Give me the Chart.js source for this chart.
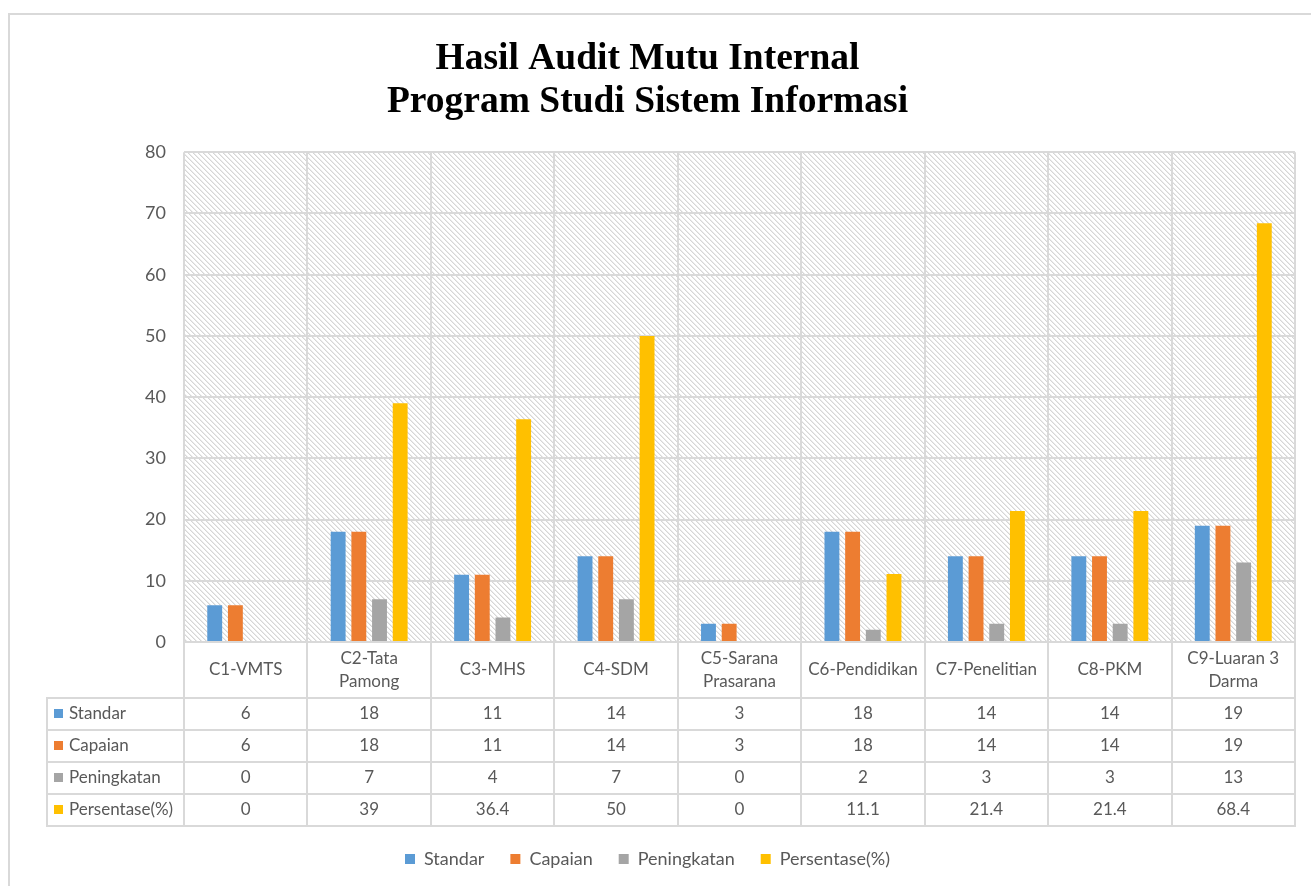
<!DOCTYPE html>
<html>
<head>
<meta charset="utf-8">
<script src="https://cdn.jsdelivr.net/npm/chart.js@4.4.1/dist/chart.umd.min.js"></script>
<style>
  html, body { margin: 0; padding: 0; background: #ffffff; }
  canvas { display: block; }
</style>
</head>
<body>
<canvas id="c" width="1311" height="886"></canvas>
<script>
// ---- Data ----
const categories = ['C1-VMTS', ['C2-Tata', 'Pamong'], 'C3-MHS', 'C4-SDM', ['C5-Sarana', 'Prasarana'], 'C6-Pendidikan', 'C7-Penelitian', 'C8-PKM', ['C9-Luaran 3', 'Darma']];
const seriesNames = ['Standar', 'Capaian', 'Peningkatan', 'Persentase(%)'];
const standar = [6, 18, 11, 14, 3, 18, 14, 14, 19];
const capaian = [6, 18, 11, 14, 3, 18, 14, 14, 19];
const peningkatan = [0, 7, 4, 7, 0, 2, 3, 3, 13];
const persentase = [0, 39, 36.4, 50, 0, 11.1, 21.4, 21.4, 68.4];
const titleLines = ['Hasil Audit Mutu Internal', 'Program Studi Sistem Informasi'];
const yTicks = { min: 0, max: 80, step: 10 };

// ---- Styles ----
const colors = ['#5B9BD5', '#ED7D31', '#A5A5A5', '#FFC000'];
const gridColor = '#d9d9d9';
const textColor = '#595959';
const FONT = 'Lato, "Open Sans", sans-serif';

function makeHatch() {
  const P = 5;
  const t = document.createElement('canvas');
  t.width = P; t.height = P;
  const g = t.getContext('2d');
  g.fillStyle = '#ffffff';
  g.fillRect(0, 0, P, P);
  for (let i = 0; i < P; i++) {
    g.fillStyle = '#d6d6d6';
    g.fillRect(i, i, 1, 1);
    g.fillStyle = '#ebebeb';
    g.fillRect((i + 1) % P, i, 1, 1);
  }
  return g.createPattern(t, 'repeat');
}

const TABLE_ROW0 = 56;     // height of category-label row
const TABLE_ROW = 32;      // height of each series row
const TABLE_LEFT = 47;     // left edge of series name column

const frameAndBg = {
  id: 'frameAndBg',
  beforeDraw(chart) {
    const ctx = chart.ctx;
    const a = chart.chartArea;
    ctx.save();
    ctx.fillStyle = '#ffffff';
    ctx.fillRect(0, 0, chart.width, chart.height);
    ctx.strokeStyle = '#d9d9d9';
    ctx.lineWidth = 2;
    ctx.strokeRect(9, 14, chart.width + 10, chart.height + 10);
    ctx.fillStyle = makeHatch();
    ctx.fillRect(a.left, a.top, a.right - a.left, a.bottom - a.top);
    ctx.restore();
  }
};

const dataTable = {
  id: 'dataTable',
  afterDraw(chart) {
    const ctx = chart.ctx;
    const a = chart.chartArea;
    const x = chart.scales.x;
    const n = categories.length;
    const w = x.getPixelForValue(1) - x.getPixelForValue(0);
    const top = a.bottom;
    const rows = [top, top + TABLE_ROW0];
    for (let i = 1; i <= seriesNames.length; i++) rows.push(top + TABLE_ROW0 + i * TABLE_ROW);
    const bottom = rows[rows.length - 1];
    ctx.save();
    ctx.strokeStyle = gridColor;
    ctx.lineWidth = 2;
    for (let i = 0; i <= n; i++) {
      const px = Math.round(x.getPixelForValue(0) - w / 2 + i * w);
      ctx.beginPath(); ctx.moveTo(px, top); ctx.lineTo(px, bottom); ctx.stroke();
    }
    ctx.beginPath(); ctx.moveTo(TABLE_LEFT, rows[1]); ctx.lineTo(TABLE_LEFT, bottom); ctx.stroke();
    for (let r = 1; r < rows.length; r++) {
      ctx.beginPath(); ctx.moveTo(TABLE_LEFT - 1, rows[r]); ctx.lineTo(a.right + 1, rows[r]); ctx.stroke();
    }
    ctx.fillStyle = textColor;
    ctx.textAlign = 'center';
    ctx.textBaseline = 'middle';
    ctx.font = '17px ' + FONT;
    categories.forEach((lab, i) => {
      const cx = x.getPixelForValue(i);
      const lines = Array.isArray(lab) ? lab : [lab];
      const lh = 23;
      const cy = (rows[0] + rows[1]) / 2;
      lines.forEach((ln, k) => {
        ctx.fillText(ln, cx, cy + (k - (lines.length - 1) / 2) * lh);
      });
    });
    chart.data.datasets.forEach((ds, s) => {
      const cy = (rows[s + 1] + rows[s + 2]) / 2;
      ctx.textAlign = 'center';
      ds.data.forEach((v, i) => {
        ctx.fillText(String(v), x.getPixelForValue(i), cy);
      });
      ctx.fillStyle = ds.backgroundColor;
      ctx.fillRect(TABLE_LEFT + 7, cy - 5, 9, 9);
      ctx.fillStyle = textColor;
      ctx.textAlign = 'left';
      ctx.fillText(ds.label, TABLE_LEFT + 22, cy);
    });
    ctx.restore();
  }
};

const seriesData = [standar, capaian, peningkatan, persentase];

new Chart(document.getElementById('c'), {
  type: 'bar',
  data: {
    labels: categories,
    datasets: seriesNames.map((name, i) => ({
      label: name,
      data: seriesData[i],
      backgroundColor: colors[i],
      borderWidth: 0,
      categoryPercentage: 0.67,
      barPercentage: 0.72
    }))
  },
  options: {
    responsive: false,
    animation: false,
    devicePixelRatio: 1,
    layout: { padding: { left: 0, right: 16, top: 32, bottom: 8 } },
    plugins: {
      title: {
        display: true,
        text: titleLines,
        color: '#000000',
        font: { family: '"Liberation Serif", "Times New Roman", serif', size: 37.5, weight: 'bold', lineHeight: 1.15 },
        padding: { top: 6, bottom: 28 }
      },
      legend: {
        position: 'bottom',
        labels: {
          boxWidth: 10, boxHeight: 10,
          color: textColor,
          font: { family: FONT, size: 18 },
          padding: 26
        }
      },
      tooltip: { enabled: false }
    },
    scales: {
      x: {
        grid: { offset: true, color: gridColor, lineWidth: 2, drawTicks: false },
        border: { display: false },
        ticks: { display: false },
        afterFit(scale) { scale.height = TABLE_ROW0 + 4 * TABLE_ROW - 2; }
      },
      y: {
        min: yTicks.min, max: yTicks.max,
        ticks: { stepSize: yTicks.step, color: textColor, font: { family: FONT, size: 18 }, padding: 18 },
        grid: { color: gridColor, lineWidth: 2, drawTicks: false },
        border: { display: false },
        afterFit(scale) { scale.width = 184; }
      }
    }
  },
  plugins: [frameAndBg, dataTable]
});
</script>
</body>
</html>
